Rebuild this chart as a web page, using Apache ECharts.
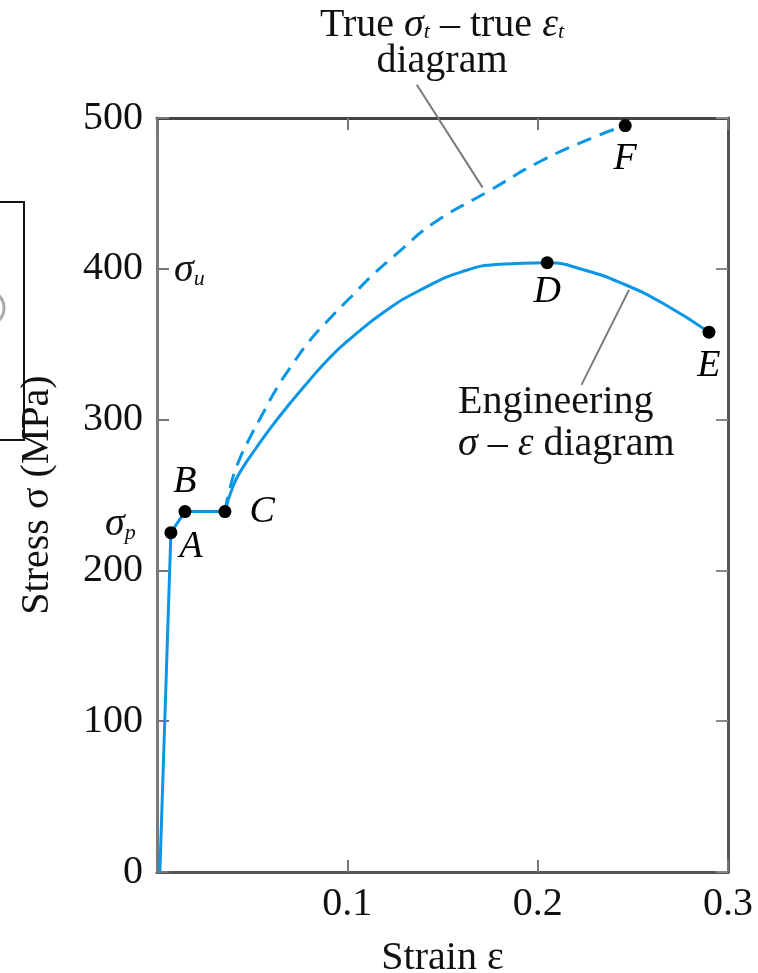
<!DOCTYPE html>
<html>
<head>
<meta charset="utf-8">
<script src="https://cdn.jsdelivr.net/npm/echarts@6/dist/echarts.min.js"></script>
<style>
  html, body { margin: 0; padding: 0; background: #fff; }
  #main { width: 758px; height: 973px; }
</style>
</head>
<body>
<div id="main"></div>
<script>
// elastic part + yield plateau (O -> A -> B -> C)
var elasticStrain = [0.0015, 0.0073, 0.0147, 0.0357];
var elasticStress = [0, 225, 239, 239];

// engineering curve, C -> D -> E
var engStrain = [0.0357, 0.040, 0.045, 0.052, 0.060, 0.070, 0.080, 0.090, 0.100, 0.120, 0.140, 0.160, 0.180, 0.205, 0.225, 0.245, 0.266, 0.290];
var engStress = [239, 256, 268, 281, 295, 311, 326, 340, 352, 372, 387, 398, 403, 404, 399, 390, 377, 358];

// true curve, C -> F
var trueStrain = [0.0357, 0.038, 0.0425, 0.0488, 0.0556, 0.063, 0.0714, 0.080, 0.0908, 0.1024, 0.1134, 0.126, 0.145, 0.175, 0.201, 0.229, 0.246];
var trueStress = [239, 253, 271, 288, 304, 321, 337, 352, 367, 382, 396, 410, 430, 452, 471, 487, 495];

// labelled points
var pointNames = ["A", "B", "C", "D", "E", "F"];
var pointStrain = [0.0073, 0.0147, 0.0357, 0.205, 0.290, 0.246];
var pointStress = [225, 239, 239, 404, 358, 495];

// leader lines for the two notes
var trueLeader = [[0.1365, 522], [0.171, 454]];
var engLeader = [[0.248, 386], [0.223, 323]];

function zip(a, b) {
  return a.map(function (v, i) { return [v, b[i]]; });
}

var serif = "Liberation Serif";
var blue = "#0a96e6";
var axisGray = "#555";
var fs = 40;

var labelPos = {
  A: { position: "right", distance: 2, offset: [0, 14] },
  B: { position: "top", distance: 4 },
  C: { position: "right", distance: 18 },
  D: { position: "bottom", distance: 4 },
  E: { position: "bottom", distance: 8 },
  F: { position: "bottom", distance: 8 }
};

var points = pointNames.map(function (n, i) {
  var p = labelPos[n];
  return {
    name: n,
    value: [pointStrain[i], pointStress[i]],
    label: { position: p.position, distance: p.distance, offset: p.offset || [0, 0] }
  };
});

var richSub = {
  s: { fontFamily: serif, fontSize: fs, fontStyle: "italic", fill: "#111" },
  sub: { fontFamily: serif, fontSize: 22, fontStyle: "italic", fill: "#111", verticalAlign: "bottom", padding: [18, 0, 0, 0] },
  n: { fontFamily: serif, fontSize: fs, fill: "#111" }
};

var myChart = echarts.init(document.getElementById("main"));
var option = {
  backgroundColor: "#fff",
  animation: false,
  grid: { left: 157, right: 30, top: 118, bottom: 101, containLabel: false, outerBoundsMode: "none" },
  xAxis: [
    {
      type: "value",
      min: 0,
      max: 0.3,
      interval: 0.1,
      name: "Strain ε",
      nameLocation: "middle",
      nameGap: 66,
      nameTextStyle: { fontFamily: serif, fontSize: fs, color: "#111" },
      axisLine: { show: true, onZero: false, lineStyle: { color: axisGray, width: 3 } },
      axisTick: { show: true, inside: true, length: 12, lineStyle: { color: "#777", width: 2 } },
      axisLabel: {
        fontFamily: serif,
        fontSize: fs,
        color: "#111",
        margin: 12,
        formatter: function (v) { return v === 0 ? "" : String(Math.round(v * 10) / 10); }
      },
      splitLine: { show: false }
    },
    {
      type: "value",
      position: "top",
      min: 0,
      max: 0.3,
      interval: 0.1,
      axisLine: { show: true, onZero: false, lineStyle: { color: "#444", width: 3 } },
      axisTick: { show: true, inside: true, length: 12, lineStyle: { color: "#777", width: 2 } },
      axisLabel: { show: false },
      splitLine: { show: false }
    }
  ],
  yAxis: [
    {
      type: "value",
      min: 0,
      max: 500,
      interval: 100,
      name: "Stress σ (MPa)",
      nameLocation: "middle",
      nameGap: 100,
      nameTextStyle: { fontFamily: serif, fontSize: fs, color: "#111" },
      axisLine: { show: true, onZero: false, lineStyle: { color: "#7a7a7a", width: 3 } },
      axisTick: { show: true, inside: true, length: 12, lineStyle: { color: "#777", width: 2 } },
      axisLabel: { fontFamily: serif, fontSize: fs, color: "#111", margin: 14 },
      splitLine: { show: false }
    },
    {
      type: "value",
      position: "right",
      min: 0,
      max: 500,
      interval: 100,
      axisLine: { show: true, onZero: false, lineStyle: { color: axisGray, width: 3 } },
      axisTick: { show: true, inside: true, length: 12, lineStyle: { color: "#888", width: 2 } },
      axisLabel: { show: false },
      splitLine: { show: false }
    }
  ],
  series: [
    {
      name: "Elastic",
      type: "line",
      data: zip(elasticStrain, elasticStress),
      showSymbol: false,
      lineStyle: { color: blue, width: 3 },
      z: 3
    },
    {
      name: "Engineering",
      type: "line",
      data: zip(engStrain, engStress),
      smooth: 0.5,
      showSymbol: false,
      lineStyle: { color: blue, width: 3 },
      z: 3
    },
    {
      name: "True",
      type: "line",
      data: zip(trueStrain, trueStress),
      smooth: 0.5,
      showSymbol: false,
      lineStyle: { color: blue, width: 3, type: [15, 9] },
      z: 3
    },
    {
      name: "TrueLeader",
      type: "line",
      data: trueLeader,
      clip: false,
      showSymbol: false,
      lineStyle: { color: "#7a7a7a", width: 2 },
      z: 2
    },
    {
      name: "EngLeader",
      type: "line",
      data: engLeader,
      showSymbol: false,
      lineStyle: { color: "#7a7a7a", width: 2 },
      z: 2
    },
    {
      name: "Points",
      type: "scatter",
      data: points,
      symbolSize: 13,
      itemStyle: { color: "#000", opacity: 1 },
      label: {
        show: true,
        formatter: "{b}",
        fontFamily: serif,
        fontStyle: "italic",
        fontSize: 38,
        color: "#000"
      },
      z: 5
    }
  ],
  graphic: [
    {
      type: "text",
      x: 442,
      y: 7,
      style: {
        text: "{n|True }{s|σ}{sub|t}{n| – true }{s|ε}{sub|t}\n{n|diagram}",
        rich: richSub,
        align: "center",
        lineHeight: 36
      }
    },
    {
      type: "text",
      x: 458,
      y: 381,
      style: {
        text: "{n|Engineering}\n{s|σ}{n| – }{s|ε}{n| diagram}",
        rich: richSub,
        lineHeight: 42
      }
    },
    {
      type: "text",
      x: 174,
      y: 250,
      style: { text: "{s|σ}{sub|u}", rich: richSub }
    },
    {
      type: "text",
      x: 105,
      y: 504,
      style: { text: "{s|σ}{sub|p}", rich: richSub }
    },
    {
      type: "rect",
      shape: { x: -4, y: 202, width: 28, height: 238 },
      style: { fill: "none", stroke: "#111", lineWidth: 2 }
    },
    {
      type: "arc",
      shape: { cx: -14, cy: 308, r: 18, startAngle: -1.0, endAngle: 1.0 },
      style: { fill: "none", stroke: "#aaa", lineWidth: 3 }
    }
  ]
};
myChart.setOption(option);
</script>
</body>
</html>
